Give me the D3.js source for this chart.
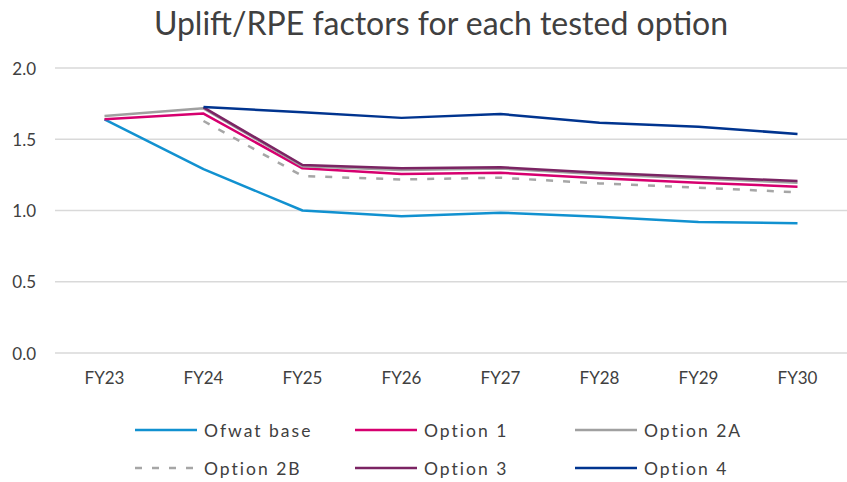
<!DOCTYPE html>
<html>
<head>
<meta charset="utf-8">
<script src="https://cdn.jsdelivr.net/npm/d3@7"></script>
<style>
body{margin:0;background:#fff;}
text{font-family:Lato,"Open Sans",sans-serif;}
</style>
</head>
<body>
<div id="chart"></div>
<script>
// chart data
let years = ['FY23','FY24','FY25','FY26','FY27','FY28','FY29','FY30'],
seriesNames = ['Ofwat base','Option 1','Option 2A','Option 2B','Option 3','Option 4'],
ofwatBase = [1.64, 1.29, 1.00, 0.96, 0.985, 0.957, 0.92, 0.91],
option1 = [1.64, 1.68, 1.296, 1.256, 1.265, 1.226, 1.195, 1.167],
option2A = [1.663, 1.717, 1.31, 1.285, 1.295, 1.255, 1.225, 1.195],
option2B = [null, 1.628, 1.242, 1.218, 1.23, 1.19, 1.16, 1.128],
option3 = [null, 1.724, 1.319, 1.296, 1.303, 1.265, 1.235, 1.207],
option4 = [null, 1.726, 1.69, 1.65, 1.677, 1.616, 1.588, 1.537],
yTicks = [0, 0.5, 1.0, 1.5, 2.0];

let colors = ['#1191d0','#d6006f','#a0a0a0','#a6a6a6','#7b2463','#00348f'],
dashes = [null, null, null, '7,10', null, null],
allValues = [ofwatBase, option1, option2A, option2B, option3, option4];

let W = 847, H = 482,
svg = d3.select('#chart').append('svg').attr('width', W).attr('height', H);

let x = d3.scaleBand().domain(years).range([55, 847]),
y = d3.scaleLinear().domain([0, 2]).range([353, 68]);

//title
svg.append('text')
.attr('x', 441).attr('y', 35)
.attr('text-anchor', 'middle')
.style('font-size', '32px')
.style('fill', '#404040')
.text('Uplift/RPE factors for each tested option');

//gridlines
svg.append('g').selectAll('line').data(yTicks).enter().append('line')
.attr('x1', 55).attr('x2', 847)
.attr('y1', d=>y(d)).attr('y2', d=>y(d))
.style('stroke', '#d9d9d9').style('stroke-width', 1.5);

//y labels
svg.append('g').selectAll('text').data(yTicks).enter().append('text')
.attr('x', 36).attr('y', d=>y(d))
.attr('text-anchor', 'end').attr('dominant-baseline', 'central')
.style('font-size', '17px').style('fill', '#404040')
.text(d=>d3.format('.1f')(d));

//x labels
svg.append('g').selectAll('text').data(years).enter().append('text')
.attr('x', d=>x(d) + x.bandwidth()/2).attr('y', 384)
.attr('text-anchor', 'middle')
.style('font-size', '17px').style('fill', '#404040')
.text(d=>d);

//series lines
let line = d3.line()
.defined(d=>d.v != null)
.x(d=>x(d.k) + x.bandwidth()/2)
.y(d=>y(d.v));

allValues.forEach((vals, i)=>{
	svg.append('path')
	.datum(years.map((k, j)=>({k:k, v:vals[j]})))
	.attr('d', line)
	.style('fill', 'none')
	.style('stroke', colors[i])
	.style('stroke-width', 2.5)
	.style('stroke-dasharray', dashes[i])
	.style('stroke-linejoin', 'round');
});

//legend
let legX = [135, 355, 575], legY = [430, 468];
seriesNames.forEach((name, i)=>{
	let lx = legX[i % 3], ly = legY[Math.floor(i / 3)];
	svg.append('line')
	.attr('x1', lx).attr('x2', lx + 62)
	.attr('y1', ly).attr('y2', ly)
	.style('stroke', colors[i]).style('stroke-width', 2.5)
	.style('stroke-dasharray', dashes[i]);
	svg.append('text')
	.attr('x', lx + 69).attr('y', ly)
	.attr('dominant-baseline', 'central')
	.style('font-size', '17.5px').style('fill', '#404040')
	.style('letter-spacing', '2px')
	.text(name);
});
</script>
</body>
</html>
